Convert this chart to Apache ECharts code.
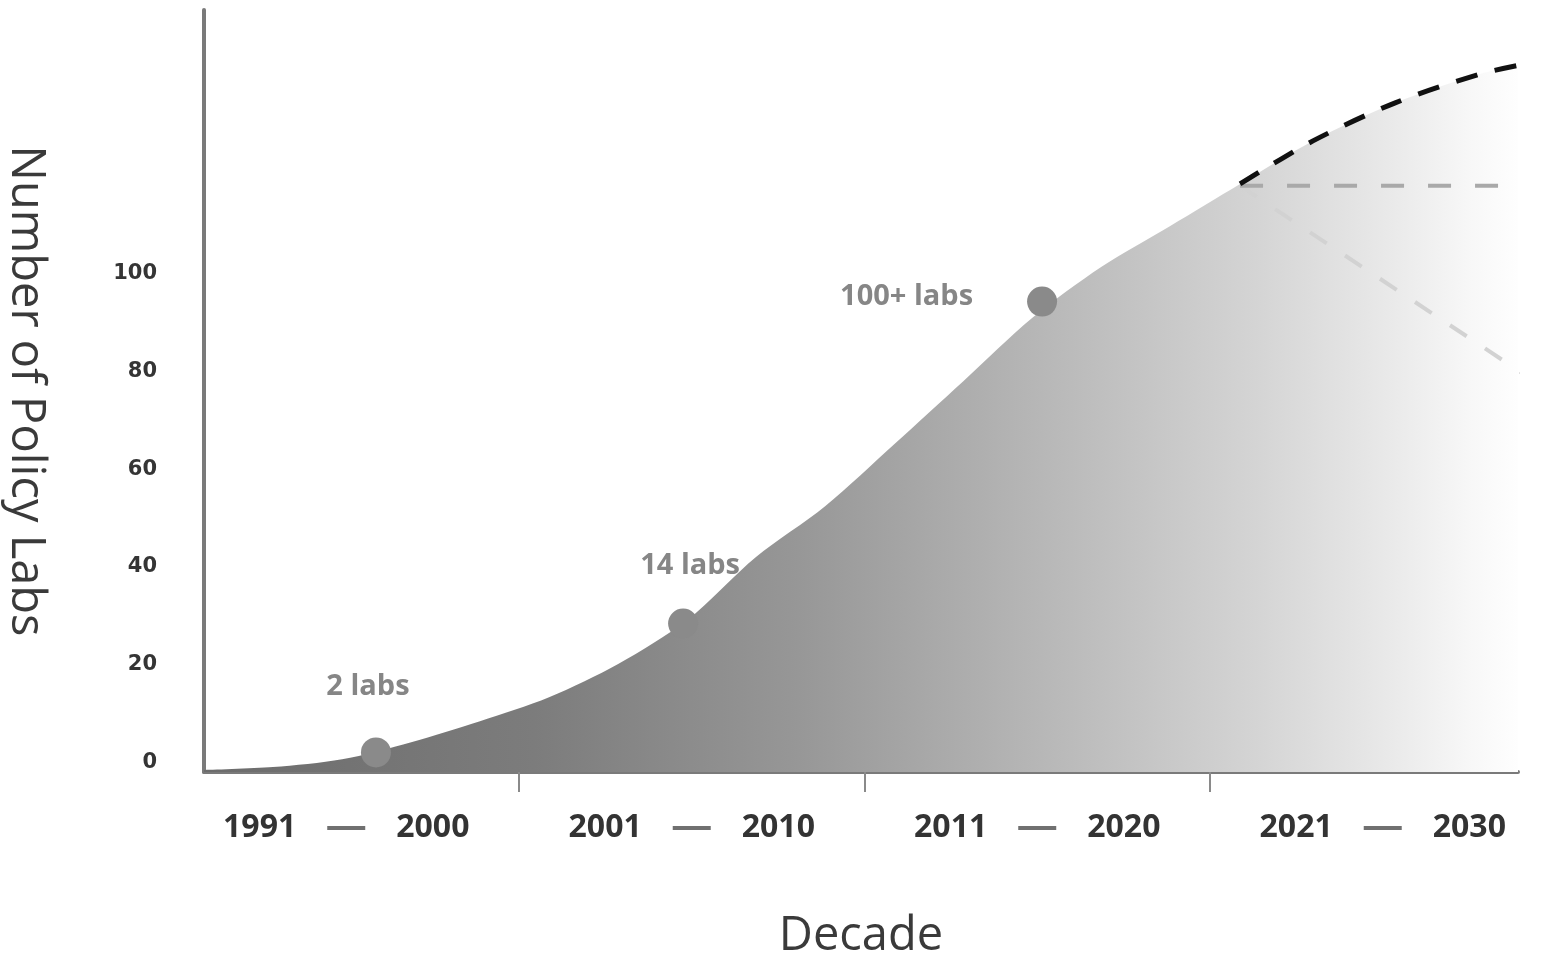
<!DOCTYPE html>
<html>
<head>
<meta charset="utf-8">
<title>Number of Policy Labs by Decade</title>
<script src="https://cdn.jsdelivr.net/npm/echarts@6/dist/echarts.min.js"></script>
<style>
  html, body { margin: 0; padding: 0; background: #ffffff; }
  #chart { width: 1547px; height: 957px; }
</style>
</head>
<body>
<div id="chart"></div>
<script>
// Growth curve of policy labs (year, count)
const curveYears  = [1991.38, 1993.38, 1995.38, 1997.38, 1999.37, 2001.37, 2003.37, 2005.37, 2007.36, 2009.36, 2011.36, 2013.36, 2015.36, 2017.35, 2019.35, 2021.37];
const curveCounts = [-1.6,    -1.0,    0.6,     4.1,     8.4,     13.3,    20.1,    29.1,    42.0,    52.4,    65.1,    78.0,    91.0,    101.4,   109.8,   118.4];

// Projection scenarios for the next decade
const projYears   = [2021.37, 2023.48, 2025.86, 2028.32, 2029.65];
const projHigh    = [118.4,   127.2,   135.0,   140.9,   143.0];
const flatYears   = [2021.37, 2030.25];
const projFlat    = [118.0,   118.0];
const lowYears    = [2021.37, 2029.57];
const projLow     = [118.0,   79.5];

// Highlighted milestones on the curve
const milestoneYears  = [1996.36, 2005.25, 2015.64];
const milestoneCounts = [2.0,     28.4,    94.3];
const milestoneLabels = ['2 labs', '14 labs', '100+ labs'];

// Axis ticks and labels
const yTicks        = [0, 20, 40, 60, 80, 100];
const decadeMids    = [1995.5, 2005.5, 2015.5, 2025.5];
const decadeBounds  = [2000.5, 2010.5, 2020.5];
const decadeStarts  = ['1991', '2001', '2011', '2021'];
const decadeEnds    = ['2000', '2010', '2020', '2030'];

const pairs = (xs, ys) => xs.map((x, i) => [x, ys[i]]);

// Filled region: historic curve followed by the upper projection
const areaData = pairs(curveYears, curveCounts).concat(pairs(projYears, projHigh).slice(1));

const chart = echarts.init(document.getElementById('chart'));

const labelPlacement = [
  { position: 'top',  distance: 36, offset: [-8, 0] },
  { position: 'top',  distance: 28, offset: [7, 0] },
  { position: 'left', distance: 54, offset: [0, -5] }
];

chart.setOption({
  backgroundColor: '#ffffff',
  animation: false,
  grid: { left: 204, right: 29, top: 10, bottom: 185, outerBoundsMode: 'none', containLabel: false },
  xAxis: {
    type: 'value',
    min: 1991.383,
    max: 2029.415,
    name: 'Decade',
    nameLocation: 'middle',
    nameGap: 141,
    nameTextStyle: { fontFamily: 'Open Sans', fontSize: 47, color: '#3a3a3a' },
    axisLine: { show: true, onZero: false, lineStyle: { color: '#7a7a7a', width: 4 } },
    axisTick: { show: true, customValues: decadeBounds, length: 20, lineStyle: { color: '#8a8a8a', width: 2 } },
    splitLine: { show: false },
    axisLabel: {
      customValues: decadeMids,
      margin: 40,
      formatter: function (v) {
        const i = decadeMids.indexOf(v);
        return '{y|' + decadeStarts[i] + '}{g| }{bar| }{g| }{y|' + decadeEnds[i] + '}';
      },
      rich: {
        y: { fontFamily: 'Open Sans', fontWeight: 'bold', fontSize: 32, color: '#333333', lineHeight: 32 },
        g: { width: 31, fontSize: 10 },
        bar: { width: 38, height: 4, fontSize: 2, backgroundColor: '#707070' }
      }
    }
  },
  yAxis: {
    type: 'value',
    min: -2,
    max: 154,
    name: 'Number of Policy Labs',
    nameLocation: 'middle',
    nameRotate: -90,
    nameGap: 155,
    nameTextStyle: { fontFamily: 'Open Sans', fontSize: 47, color: '#3a3a3a' },
    axisLine: { show: true, onZero: false, lineStyle: { color: '#7a7a7a', width: 4 } },
    axisTick: { show: false },
    splitLine: { show: false },
    axisLabel: {
      customValues: yTicks,
      margin: 47,
      fontFamily: 'DejaVu Sans',
      fontWeight: 'bold',
      fontSize: 21,
      color: '#353535'
    }
  },
  series: [
    {
      name: 'Policy labs',
      type: 'line',
      data: areaData,
      smooth: 0.3,
      showSymbol: false,
      clip: false,
      lineStyle: { width: 0 },
      areaStyle: {
        origin: 'start',
        opacity: 1,
        color: new echarts.graphic.LinearGradient(0, 0, 1, 0, [
          { offset: 0.00, color: '#6c6c6c' },
          { offset: 0.25, color: '#7c7c7c' },
          { offset: 0.45, color: '#979797' },
          { offset: 0.65, color: '#bababa' },
          { offset: 0.80, color: '#d5d5d5' },
          { offset: 0.90, color: '#eaeaea' },
          { offset: 0.96, color: '#f8f8f8' },
          { offset: 1.00, color: '#ffffff' }
        ])
      },
      z: 1
    },
    {
      name: 'Decline',
      type: 'line',
      data: pairs(lowYears, projLow),
      showSymbol: false,
      clip: false,
      lineStyle: { color: '#d2d2d2', width: 4, type: [20, 22] },
      z: 2
    },
    {
      name: 'Plateau',
      type: 'line',
      data: pairs(flatYears, projFlat),
      showSymbol: false,
      clip: false,
      lineStyle: { color: '#a9a9a9', width: 4, type: [23, 24] },
      z: 3
    },
    {
      name: 'Growth',
      type: 'line',
      data: pairs(projYears, projHigh),
      smooth: 0.3,
      showSymbol: false,
      clip: false,
      lineStyle: { color: '#111111', width: 5, type: [22, 18] },
      z: 4
    },
    {
      name: 'Milestones',
      type: 'scatter',
      symbolSize: 30,
      itemStyle: { color: '#8a8a8a', opacity: 1 },
      data: milestoneYears.map((x, i) => ({
        value: [x, milestoneCounts[i]],
        label: Object.assign({
          show: true,
          formatter: milestoneLabels[i],
          fontFamily: 'Open Sans',
          fontWeight: 'bold',
          fontSize: 29,
          color: '#868686'
        }, labelPlacement[i])
      })),
      z: 5
    }
  ]
});
</script>
</body>
</html>
